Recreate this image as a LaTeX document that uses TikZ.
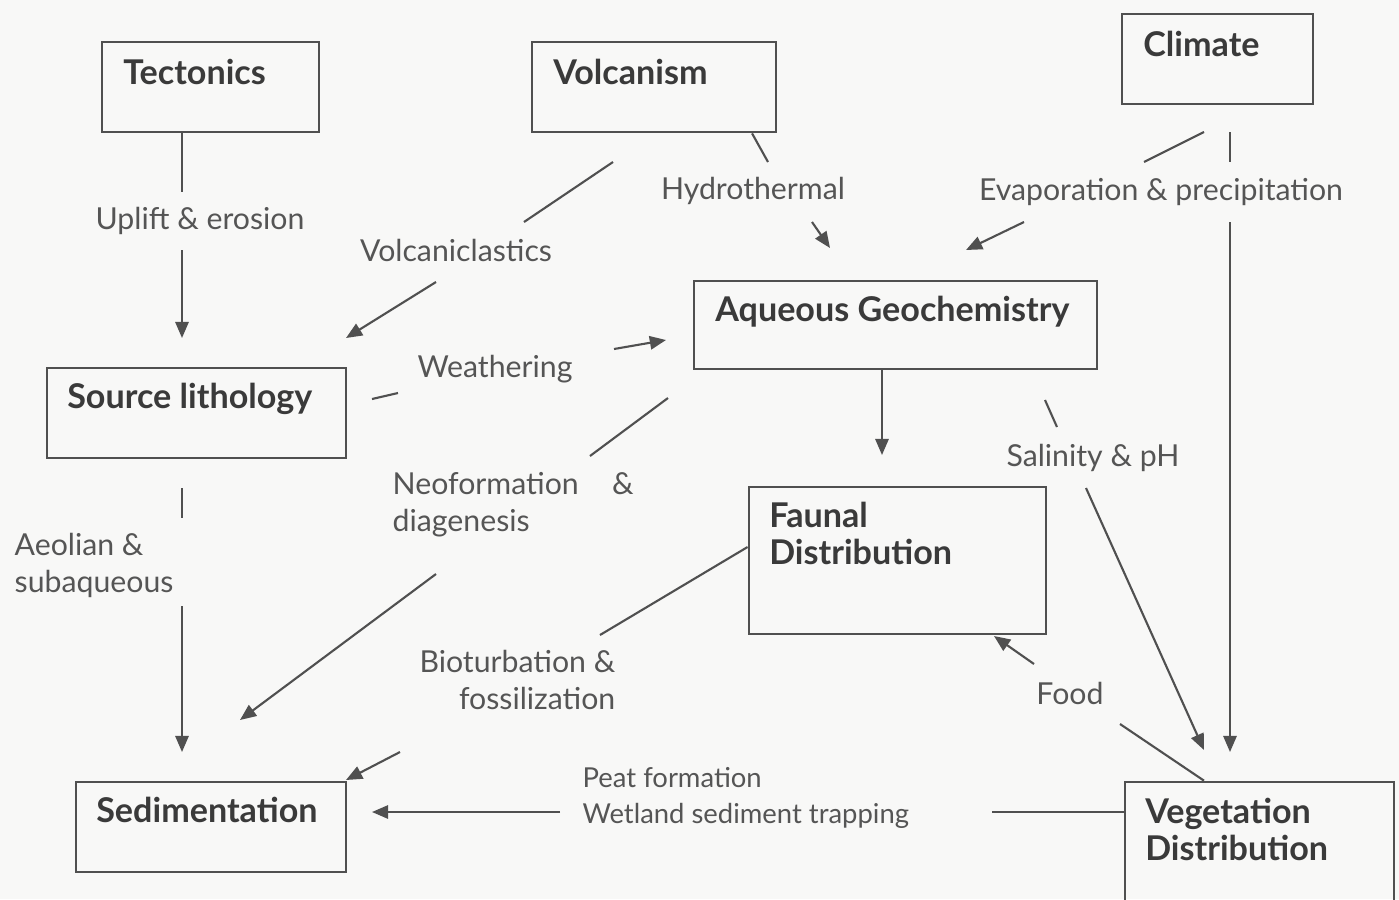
\documentclass[tikz,border=0pt]{standalone}
\usepackage{fontspec}
\setmainfont{Lato}
\usetikzlibrary{positioning,arrows.meta}

\definecolor{paper}{RGB}{248,248,247}
\definecolor{inkgray}{RGB}{58,58,58}
\definecolor{labelgray}{RGB}{85,85,85}
\definecolor{linegray}{RGB}{80,80,80}

\tikzset{
  box/.style={draw=linegray,line width=0.75pt,inner sep=0pt},
  boxtext/.style={font=\fontsize{9.7}{10.6}\selectfont\bfseries,text=inkgray,inner sep=0pt,anchor=base west,align=left},
  lbl/.style={font=\fontsize{8.6}{10.3}\selectfont,text=labelgray,inner sep=0pt},
  link/.style={draw=linegray,line width=0.6pt},
  arrow/.style={link,-{Triangle[length=4.6pt,width=3.8pt]}}
}

\begin{document}
\begin{tikzpicture}[x=0.01cm,y=-0.01cm]
\fill[paper] (0,0) rectangle (1399,899);
\clip (0,0) rectangle (1399,899);

\node[box,minimum width=2.17cm,minimum height=0.9cm] (tect) at (210.5,87) {};
\node[box,minimum width=2.44cm,minimum height=0.9cm] (volc) at (654,87) {};
\node[box,minimum width=1.91cm,minimum height=0.9cm] (clim) at (1217.5,59) {};
\node[box,minimum width=4.03cm,minimum height=0.88cm] (aqua) at (895.5,325) {};
\node[box,minimum width=2.99cm,minimum height=0.9cm] (src) at (196.5,413) {};
\node[box,minimum width=2.97cm,minimum height=1.47cm] (faun) at (897.5,560.5) {};
\node[box,minimum width=2.70cm,minimum height=0.9cm] (sed) at (211,827) {};
\node[box,minimum width=2.69cm,minimum height=1.3cm] (veg) at (1259.5,847) {};

\node[boxtext] (tect-t) at ([shift={(22,44)}]tect.north west) {Tectonics};
\node[boxtext] (volc-t) at ([shift={(22,44)}]volc.north west) {Volcanism};
\node[boxtext] (clim-t) at ([shift={(22,44)}]clim.north west) {Climate};
\node[boxtext] (aqua-t) at ([shift={(22,42)}]aqua.north west) {Aqueous Geochemistry};
\node[boxtext] (src-t) at ([shift={(21,42)}]src.north west) {Source lithology};
\node[boxtext] (faun-t) at ([shift={(21,79)}]faun.north west) {Faunal\\Distribution};
\node[boxtext] (sed-t) at ([shift={(21,42)}]sed.north west) {Sedimentation};
\node[boxtext] (veg-t) at ([shift={(21,80)}]veg.north west) {Vegetation\\Distribution};

\node[lbl] (uplift) at (200,221) {Uplift \& erosion};
\node[lbl] (vclast) at (456,250) {Volcaniclastics};
\node[lbl] (hydro) at (753,191) {Hydrothermal};
\node[lbl] (evap) at (1161,192) {Evaporation \& precipitation};
\node[lbl] (weath) at (495,369) {Weathering};
\node[lbl,anchor=base west,align=left] (neo) at (392,531) {Neoformation\hspace{1.1em}\&\\diagenesis};
\node[lbl] (salin) at (1093,458) {Salinity \& pH};
\node[lbl,anchor=base west,align=left] (aeol) at (14,592) {Aeolian \&\\subaqueous};
\node[lbl,anchor=base east,align=right] (biot) at (616,709) {Bioturbation \&\\fossilization};
\node[lbl] (food) at (1070,693) {Food};
\node[lbl,font=\fontsize{7.8}{10}\selectfont,anchor=base west,align=left] (peat) at (582,823) {Peat formation\\Wetland sediment trapping};

\coordinate (c1a) at (182,192);
\coordinate (c1b) at (182,250);
\coordinate (c1c) at (182,338);
\coordinate (c2a) at (613,162);
\coordinate (c2b) at (524,222);
\coordinate (c2c) at (436,282);
\coordinate (c2d) at (346,338);
\coordinate (c3a) at (768,162);
\coordinate (c3b) at (812,222);
\coordinate (c3c) at (830,248);
\coordinate (c4a) at (1204,132);
\coordinate (c4b) at (1144,162);
\coordinate (c4c) at (1024,222);
\coordinate (c4d) at (966,250);
\coordinate (c5a) at (1230,132);
\coordinate (c5b) at (1230,162);
\coordinate (c5c) at (1230,222);
\coordinate (c5d) at (1230,752);
\coordinate (c6a) at (372,399);
\coordinate (c6b) at (398,393);
\coordinate (c6c) at (614,349);
\coordinate (c6d) at (666,340);
\coordinate (c7a) at (668,398);
\coordinate (c7b) at (590,456);
\coordinate (c7c) at (436,574);
\coordinate (c7d) at (240,720);
\coordinate (c8) at (882,455);
\coordinate (c9a) at (1045,400);
\coordinate (c9b) at (1057,427);
\coordinate (c9c) at (1086,488);
\coordinate (c9d) at (1204,750);
\coordinate (c10a) at (600,635);
\coordinate (c10b) at (400,752);
\coordinate (c10c) at (346,780);
\coordinate (c11a) at (992,812);
\coordinate (c11b) at (560,812);
\coordinate (c11c) at (372,812);
\coordinate (c12a) at (1120,724);
\coordinate (c12b) at (1034,664);
\coordinate (c12c) at (994,636);
\coordinate (c13a) at (182,488);
\coordinate (c13b) at (182,518);
\coordinate (c13c) at (182,606);
\coordinate (c13d) at (182,752);

\draw[link] (tect.south -| c1a) -- (c1a);
\draw[arrow] (c1b) -- (c1c);
\draw[link] (c2a) -- (c2b);
\draw[arrow] (c2c) -- (c2d);
\draw[link] ([xshift=0.98cm]volc.south) -- (c3a);
\draw[arrow] (c3b) -- (c3c);
\draw[link] (c4a) -- (c4b);
\draw[arrow] (c4c) -- (c4d);
\draw[link] (c5a) -- (c5b);
\draw[arrow] (c5c) -- (c5d);
\draw[link] (c6a) -- (c6b);
\draw[arrow] (c6c) -- (c6d);
\draw[link] (c7a) -- (c7b);
\draw[arrow] (c7c) -- (c7d);
\draw[arrow] (aqua.south -| c8) -- (c8);
\draw[link] (c9a) -- (c9b);
\draw[arrow] (c9c) -- (c9d);
\draw[link] ([yshift=0.135cm]faun.west) -- (c10a);
\draw[arrow] (c10b) -- (c10c);
\draw[link] (veg.west |- c11a) -- (c11a);
\draw[arrow] (c11b) -- (c11c);
\draw[link] ([xshift=-0.555cm]veg.north) -- (c12a);
\draw[arrow] (c12b) -- (c12c);
\draw[link] (c13a) -- (c13b);
\draw[arrow] (c13c) -- (c13d);
\end{tikzpicture}
\end{document}
